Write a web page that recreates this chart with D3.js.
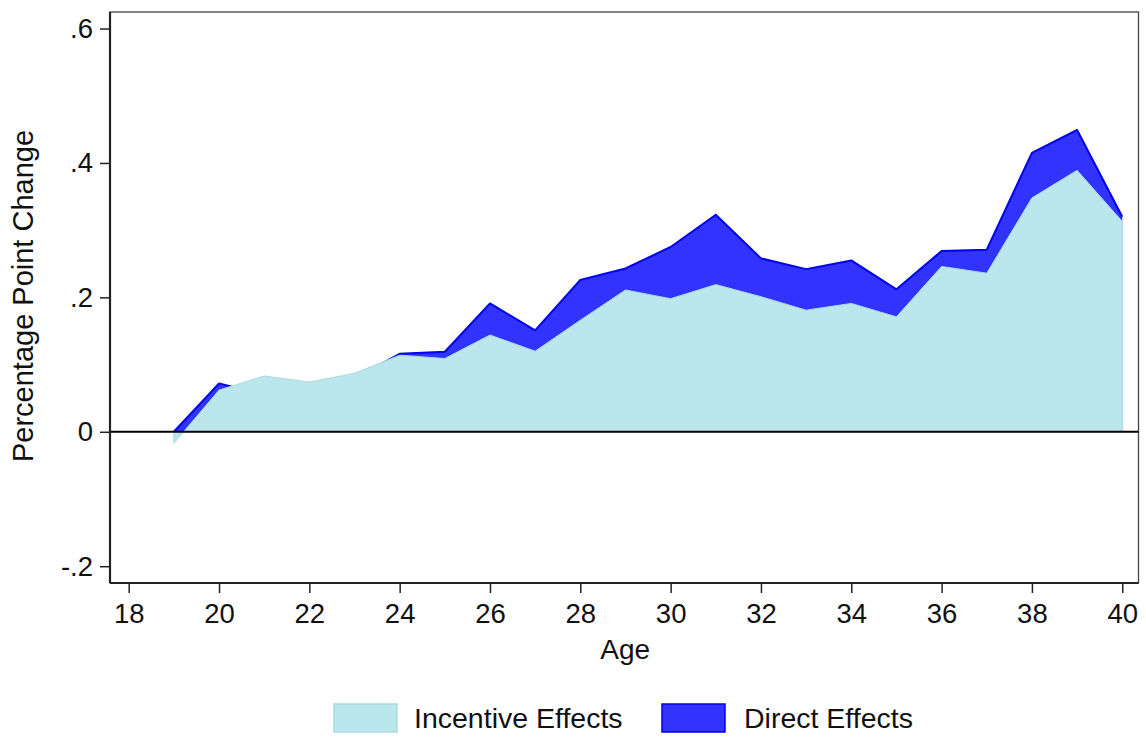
<!DOCTYPE html>
<html>
<head>
<meta charset="utf-8">
<script src="https://cdn.jsdelivr.net/npm/d3@7"></script>
<style>
  html, body { margin: 0; padding: 0; background: #fff; }
  svg { display: block; font-family: "Liberation Sans", Arial, sans-serif; }
</style>
</head>
<body>
<svg id="chart" width="1146" height="739"></svg>
<script>
// Ages on the horizontal axis
const ages = [19, 20, 21, 22, 23, 24, 25, 26, 27, 28, 29, 30, 31, 32, 33, 34, 35, 36, 37, 38, 39, 40];
// Total effect (incentive + direct), drawn as the dark area
const totalEffects = [0.000, 0.072, 0.055, 0.066, 0.080, 0.116, 0.119, 0.191, 0.151, 0.226, 0.243, 0.275, 0.323, 0.258, 0.242, 0.255, 0.212, 0.269, 0.271, 0.415, 0.449, 0.320];
// Incentive effect, drawn over the total as the light area
const incentiveEffects = [-0.017, 0.062, 0.083, 0.074, 0.087, 0.114, 0.109, 0.144, 0.120, 0.166, 0.211, 0.198, 0.219, 0.201, 0.181, 0.191, 0.171, 0.246, 0.236, 0.348, 0.389, 0.313];
const xTicks = [18, 20, 22, 24, 26, 28, 30, 32, 34, 36, 38, 40];
const yTicks = [-0.2, 0, 0.2, 0.4, 0.6];
const legendLabels = ["Incentive Effects", "Direct Effects"];

const colLight = "#bae6ec", colLightEdge = "#a9dbe3";
const colDark = "#3333ff", colDarkEdge = "#0000f0";

const svg = d3.select("#chart");
const plotL = 110, plotR = 1138.5, plotT = 12, plotB = 583;

const x = d3.scaleLinear().domain([17.586, 40.36]).range([plotL, plotR]);
const y = d3.scaleLinear().domain([-0.225, 0.6246]).range([plotB, plotT]);

const totalRows = ages.map((a, i) => ({ a, v: totalEffects[i] }));
const incRows = ages.map((a, i) => ({ a, v: incentiveEffects[i] }));

const area = d3.area().x(d => x(d.a)).y0(y(0)).y1(d => y(d.v));
const line = d3.line().x(d => x(d.a)).y(d => y(d.v));

// Plot region outline
svg.append("rect")
  .attr("x", plotL).attr("y", plotT)
  .attr("width", plotR - plotL).attr("height", plotB - plotT)
  .attr("fill", "none").attr("stroke", "#444").attr("stroke-width", 1.3);

// Total effect area with its upper edge
svg.append("path").datum(totalRows)
  .attr("d", area).attr("fill", colDark);
svg.append("path").datum(totalRows)
  .attr("d", line).attr("fill", "none")
  .attr("stroke", colDarkEdge).attr("stroke-width", 2).attr("stroke-linejoin", "round");

// Incentive area on top
svg.append("path").datum(incRows)
  .attr("d", area).attr("fill", colLight)
  .attr("stroke", colLightEdge).attr("stroke-width", 1);

// Zero reference line
svg.append("line")
  .attr("x1", plotL).attr("x2", plotR)
  .attr("y1", y(0)).attr("y2", y(0))
  .attr("stroke", "#000").attr("stroke-width", 2);

// Axes
const xAxis = d3.axisBottom(x).tickValues(xTicks).tickSize(10).tickPadding(10).tickFormat(d3.format("d"));
const gx = svg.append("g").attr("transform", `translate(0,${plotB})`).call(xAxis);
gx.select(".domain").attr("d", `M${plotL},0H${plotR}`).attr("stroke", "#222").attr("stroke-width", 2.2);

const fmtY = d => d === 0 ? "0" : String(+d.toFixed(1)).replace("0.", ".");
const yAxis = d3.axisLeft(y).tickValues(yTicks).tickSize(10).tickPadding(7).tickFormat(fmtY);
const gy = svg.append("g").attr("transform", `translate(${plotL},0)`).call(yAxis);
gy.select(".domain").attr("d", `M0,${plotT}V${plotB}`).attr("stroke", "#222").attr("stroke-width", 2.2);

svg.selectAll(".tick line").attr("stroke", "#222").attr("stroke-width", 1.5);
svg.selectAll(".tick text").attr("font-size", 27.5).attr("fill", "#111")
  .attr("font-family", "'Liberation Sans', Arial, sans-serif");

// Axis titles
svg.append("text")
  .attr("x", (plotL + plotR) / 2 + 1).attr("y", 659)
  .attr("text-anchor", "middle").attr("font-size", 28).attr("fill", "#111")
  .text("Age");
svg.append("text")
  .attr("transform", "translate(33,296) rotate(-90)")
  .attr("text-anchor", "middle").attr("font-size", 29).attr("fill", "#111")
  .text("Percentage Point Change");

// Legend
const legendItems = [
  { label: legendLabels[0], fill: colLight, edge: colLightEdge, x: 334, tx: 414 },
  { label: legendLabels[1], fill: colDark, edge: colDarkEdge, x: 662, tx: 744 }
];
const lg = svg.append("g");
legendItems.forEach(it => {
  lg.append("rect")
    .attr("x", it.x).attr("y", 704).attr("width", 63).attr("height", 28)
    .attr("fill", it.fill).attr("stroke", it.edge).attr("stroke-width", 1.5);
  lg.append("text")
    .attr("x", it.tx).attr("y", 728)
    .attr("font-size", 28.5).attr("fill", "#111")
    .text(it.label);
});
</script>
</body>
</html>
